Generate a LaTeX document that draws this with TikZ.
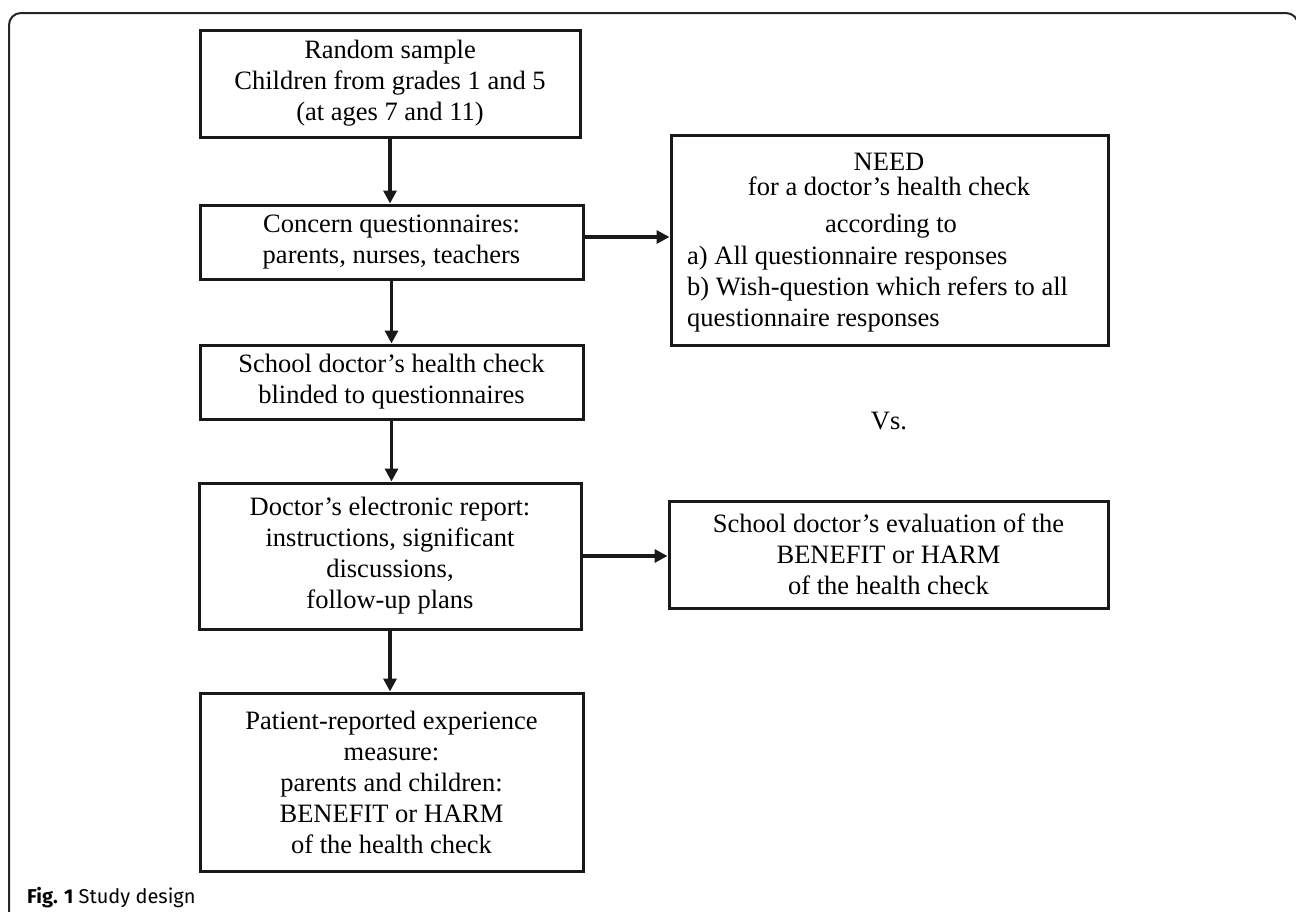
\documentclass[tikz,border=0pt]{standalone}
\usepackage{fontspec}
\setmainfont{Liberation Serif}
\newfontfamily\capfont{Fira Sans}
\usetikzlibrary{arrows.meta}
\begin{document}
\begin{tikzpicture}[x=1pt,y=-1pt,
  boxstyle/.style={draw=black!90, line width=3pt, rectangle, inner sep=0pt,
    align=center, font=\fontsize{26.5}{31}\selectfont},
  txt/.style={inner sep=0pt, anchor=base, font=\fontsize{26.5}{31}\selectfont},
  arr/.style={line width=3.4pt, draw=black!90, -{Triangle[length=13pt,width=13pt]}},
  frame/.style={draw=black!85, line width=2pt, rounded corners=12pt}]
\useasboundingbox (0,0) rectangle (1296,911);
\clip (0,0) rectangle (1296,911);
\draw[frame] (9,930) -- (9,13) -- (1298,13) -- (1298,930);

\node[boxstyle, minimum width=380pt, minimum height=107pt] (b1) at (390,83.5)
  {Random sample\\Children from grades 1 and 5\\(at ages 7 and 11)};
\node[boxstyle, minimum width=383pt, minimum height=74pt] (b2) at (391.5,242)
  {Concern questionnaires:\\parents, nurses, teachers};
\node[boxstyle, minimum width=383pt, minimum height=74pt] (b3) at (391.5,382)
  {School doctor’s health check\\blinded to questionnaires};
\node[boxstyle, minimum width=382pt, minimum height=146pt] (b4) at (390,556)
  {Doctor’s electronic report:\\instructions, significant\\discussions,\\follow-up plans};
\node[boxstyle, minimum width=383pt, minimum height=178pt] (b5) at (391.5,782)
  {Patient-reported experience\\measure:\\parents and children:\\BENEFIT or HARM\\of the health check};

\node[boxstyle, minimum width=437pt, minimum height=210pt] (need) at (889.5,240) {};
\node[txt] (n1) at (889,170) {NEED};
\node[txt] (n2) at (889,195) {for a doctor’s health check};
\node[txt] (n3) at (891,232) {according to};
\node[txt, anchor=base west] (n4) at (687,264) {a) All questionnaire responses};
\node[txt, anchor=base west] (n5) at (687,295) {b) Wish-question which refers to all};
\node[txt, anchor=base west] (n6) at (687,326) {questionnaire responses};

\node[txt] (vs) at (889,429) {Vs.};

\node[boxstyle, minimum width=439pt, minimum height=107pt] (b6) at (888.5,554.5)
  {School doctor’s evaluation of the\\BENEFIT or HARM\\of the health check};

\draw[arr] (b1.south) -- (b1.south |- b2.north);
\draw[arr] (b2.south) -- (b2.south |- b3.north);
\draw[arr] (b3.south) -- (b3.south |- b4.north);
\draw[arr] (b4.south) -- (b4.south |- b5.north);
\draw[arr] ([yshift=5pt]b2.east) -- ([yshift=5pt]b2.east -| need.west);
\draw[arr] (b4.east) -- (b4.east -| b6.west);

\node[inner sep=0pt, anchor=base west, font=\capfont\fontsize{20}{22}\selectfont] (cap) at (27,903)
  {\textbf{Fig. 1} Study design};
\end{tikzpicture}
\end{document}
